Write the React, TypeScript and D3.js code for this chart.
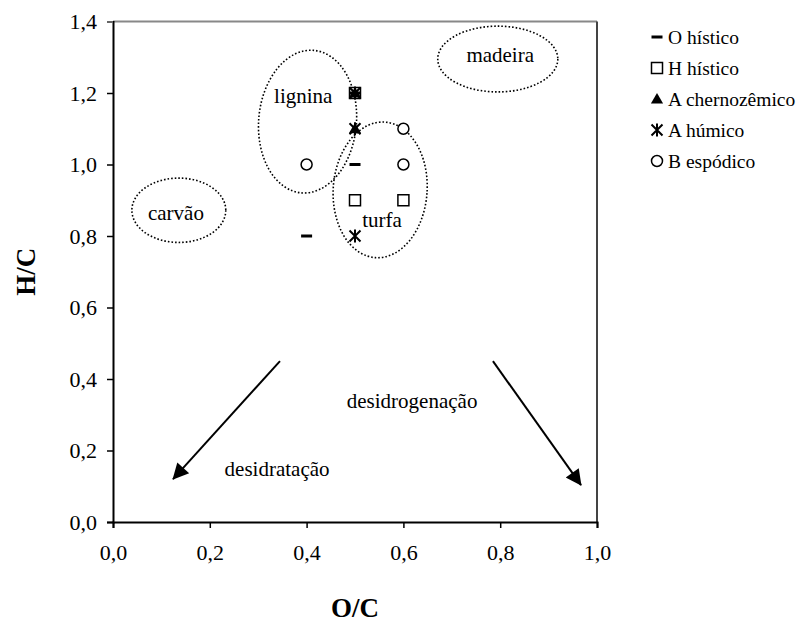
import React, { useEffect, useRef } from "react";
import * as d3 from "d3";

// Van Krevelen style diagram: H/C versus O/C of organic horizons
const seriesNames = ["O hístico", "H hístico", "A chernozêmico", "A húmico", "B espódico"];
const seriesShapes = ["dash", "square", "triangle", "asterisk", "circle"];

const oHisticoOC = [0.4, 0.5, 0.5];
const oHisticoHC = [0.8, 1.0, 1.2];
const hHisticoOC = [0.5, 0.6, 0.5];
const hHisticoHC = [0.9, 0.9, 1.2];
const aChernoOC = [0.5, 0.5];
const aChernoHC = [1.1, 1.2];
const aHumicoOC = [0.5, 0.5, 0.5];
const aHumicoHC = [0.8, 1.1, 1.2];
const bEspodicoOC = [0.4, 0.6, 0.6];
const bEspodicoHC = [1.0, 1.0, 1.1];

const xTicks = [0, 0.2, 0.4, 0.6, 0.8, 1.0];
const yTicks = [0, 0.2, 0.4, 0.6, 0.8, 1.0, 1.2, 1.4];

// Reference material regions (centre and semi-axes in O/C, H/C units)
const regionNames = ["lignina", "turfa", "carvão", "madeira"];
const regionCx = [0.402, 0.552, 0.136, 0.795];
const regionCy = [1.12, 0.929, 0.872, 1.295];
const regionRx = [0.101, 0.097, 0.097, 0.124];
const regionRy = [0.2, 0.19, 0.09, 0.092];
const regionTilt = [5, 4, 0, 0];
const regionLabelX = [0.393, 0.556, 0.13, 0.8];
const regionLabelY = [1.172, 0.826, 0.845, 1.287];

// Process arrows
const arrowNames = ["desidratação", "desidrogenação"];
const arrowFromX = [0.345, 0.785];
const arrowFromY = [0.45, 0.45];
const arrowToX = [0.124, 0.967];
const arrowToY = [0.12, 0.103];
const arrowLabelX = [0.339, 0.618];
const arrowLabelY = [0.128, 0.32];

const W = 800;
const H = 623;
const M = { left: 113, right: 203, top: 21.5, bottom: 101 };
const FONT = "'Liberation Serif', 'Times New Roman', Times, serif";

const locale = d3.formatLocale({ decimal: ",", thousands: ".", grouping: [3], currency: ["", ""] });
const fmt = locale.format(".1f");

function asteriskPath(s: number): string {
  const h = s / 2;
  return `M${-h},${-h}L${h},${h}M${-h},${h}L${h},${-h}M0,${-h - 1}L0,${h + 1}`;
}

function Marker({ shape, x, y }: { shape: string; x: number; y: number }) {
  if (shape === "dash") {
    return <rect x={x - 5.5} y={y - 1.5} width={11} height={3} fill="#000" />;
  }
  if (shape === "square") {
    return <rect x={x - 5.5} y={y - 5.5} width={11} height={11} fill="#fff" stroke="#000" strokeWidth={1.5} />;
  }
  if (shape === "triangle") {
    const p = d3.symbol().type(d3.symbolTriangle).size(64)() as string;
    return <path d={p} transform={`translate(${x},${y + 1})`} fill="#000" />;
  }
  if (shape === "circle") {
    return <circle cx={x} cy={y} r={5.5} fill="#fff" stroke="#000" strokeWidth={1.5} />;
  }
  return <path d={asteriskPath(11)} transform={`translate(${x},${y})`} fill="none" stroke="#000" strokeWidth={2} />;
}

export default function App() {
  const xAxisRef = useRef<SVGGElement>(null);
  const yAxisRef = useRef<SVGGElement>(null);

  const x = d3.scaleLinear().domain([0, 1]).range([M.left, W - M.right]);
  const y = d3.scaleLinear().domain([0, 1.4]).range([H - M.bottom, M.top]);

  const series = [
    { xs: oHisticoOC, ys: oHisticoHC },
    { xs: hHisticoOC, ys: hHisticoHC },
    { xs: aChernoOC, ys: aChernoHC },
    { xs: aHumicoOC, ys: aHumicoHC },
    { xs: bEspodicoOC, ys: bEspodicoHC },
  ];
  // draw order so that the stacked point at (0,5; 1,2) shows its overlap
  const drawOrder = [1, 4, 0, 2, 3];

  useEffect(() => {
    const gx = d3.select(xAxisRef.current as SVGGElement);
    gx.call(d3.axisBottom(x).tickValues(xTicks).tickFormat((d) => fmt(d as number)).tickSize(6).tickPadding(16) as any);
    gx.select(".domain").attr("stroke", "#000").attr("stroke-width", 2);
    gx.selectAll(".tick line").attr("stroke", "#000").attr("stroke-width", 1.5);
    gx.selectAll(".tick text").attr("font-family", FONT).attr("font-size", 22).attr("fill", "#000");

    const gy = d3.select(yAxisRef.current as SVGGElement);
    gy.call(d3.axisLeft(y).tickValues(yTicks).tickFormat((d) => fmt(d as number)).tickSize(6).tickPadding(10) as any);
    gy.select(".domain").attr("stroke", "#000").attr("stroke-width", 2);
    gy.selectAll(".tick line").attr("stroke", "#000").attr("stroke-width", 1.5);
    gy.selectAll(".tick text").attr("font-family", FONT).attr("font-size", 22).attr("fill", "#000");
    gy.selectAll(".tick").filter((d) => d === 1.4).select("line").attr("stroke", "#888");
  }, []);

  return (
    <svg width={W} height={H} style={{ position: "absolute", left: 0, top: 0, background: "#fff" }}>
      <defs>
        <marker id="arrowHead" viewBox="0 0 10 10" refX="9.5" refY="5" markerWidth="22" markerHeight="16" orient="auto" markerUnits="userSpaceOnUse">
          <path d="M0,0L10,5L0,10Z" fill="#000" />
        </marker>
      </defs>
      <rect x={0} y={0} width={W} height={H} fill="#fff" />

      {/* plot frame: top and right edges */}
      <line x1={x(0)} x2={x(1)} y1={y(1.4)} y2={y(1.4)} stroke="#888" strokeWidth={2} />
      <line x1={x(1)} x2={x(1)} y1={y(1.4)} y2={y(0)} stroke="#444" strokeWidth={2} />

      <g ref={xAxisRef} transform={`translate(0,${y(0)})`} />
      <g ref={yAxisRef} transform={`translate(${x(0)},0)`} />

      {/* material regions */}
      {regionNames.map((name, i) => {
        const cx = x(regionCx[i]);
        const cy = y(regionCy[i]);
        const rx = x(regionRx[i]) - x(0);
        const ry = y(0) - y(regionRy[i]);
        return (
          <g key={name}>
            <ellipse cx={cx} cy={cy} rx={rx} ry={ry} transform={`rotate(${regionTilt[i]},${cx},${cy})`} fill="none" stroke="#000" strokeWidth={1.6} strokeDasharray="1.6 2" />
            <text x={x(regionLabelX[i])} y={y(regionLabelY[i])} textAnchor="middle" fontFamily={FONT} fontSize={21} fill="#000">{name}</text>
          </g>
        );
      })}

      {/* process arrows */}
      {arrowNames.map((name, i) => (
        <g key={name}>
          <line x1={x(arrowFromX[i])} y1={y(arrowFromY[i])} x2={x(arrowToX[i])} y2={y(arrowToY[i])} stroke="#000" strokeWidth={2} markerEnd="url(#arrowHead)" />
          <text x={x(arrowLabelX[i])} y={y(arrowLabelY[i])} textAnchor="middle" fontFamily={FONT} fontSize={21} fill="#000">{name}</text>
        </g>
      ))}

      {/* data points */}
      {drawOrder.map((si) => (
        <g key={seriesNames[si]}>
          {series[si].xs.map((v, j) => (
            <Marker key={j} shape={seriesShapes[si]} x={x(v)} y={y(series[si].ys[j])} />
          ))}
        </g>
      ))}

      {/* legend */}
      {seriesNames.map((name, i) => {
        const ly = 37 + i * 31;
        return (
          <g key={name}>
            <Marker shape={seriesShapes[i]} x={657} y={ly} />
            <text x={668} y={ly + 6.5} fontFamily={FONT} fontSize={19.5} fill="#000">{name}</text>
          </g>
        );
      })}

      {/* axis titles */}
      <text x={x(0.5)} y={617} textAnchor="middle" fontFamily={FONT} fontSize={27} fontWeight="bold" fill="#000">O/C</text>
      <text transform={`translate(35,${y(0.7)}) rotate(-90)`} textAnchor="middle" fontFamily={FONT} fontSize={27} fontWeight="bold" fill="#000">H/C</text>
    </svg>
  );
}
